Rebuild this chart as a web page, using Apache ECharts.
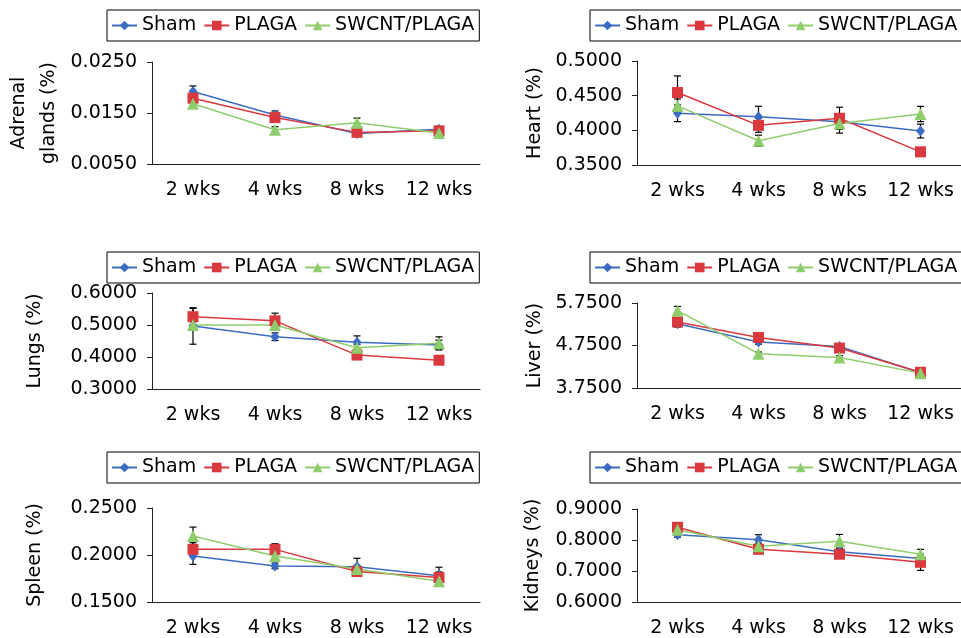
<!DOCTYPE html>
<html><head><meta charset="utf-8">
<script src="https://cdn.jsdelivr.net/npm/echarts@6/dist/echarts.min.js"></script>
<style>html,body{margin:0;padding:0;background:#fff}#c{width:961px;height:638px}</style>
</head><body><div id="c"></div>
<script>
const categories = ['2 wks','4 wks','8 wks','12 wks'];
const seriesNames = ['Sham','PLAGA','SWCNT/PLAGA'];

const adrenalSham  = [0.0192, 0.0146, 0.0110, 0.0118];
const adrenalPLAGA = [0.0179, 0.0141, 0.0112, 0.0115];
const adrenalSWCNT = [0.0168, 0.0117, 0.0131, 0.0111];
const adrenalShamErr  = [0.0011, 0.0008, 0.0005, 0.0005];
const adrenalPLAGAErr = [0.0008, 0.0007, 0.0005, 0.0004];
const adrenalSWCNTErr = [0.0006, 0.0006, 0.0009, 0.0004];
const adrenalTicks = [0.0050, 0.0150, 0.0250];

const heartSham  = [0.4246, 0.4197, 0.4125, 0.3990];
const heartPLAGA = [0.4545, 0.4072, 0.4174, 0.3690];
const heartSWCNT = [0.4352, 0.3850, 0.4100, 0.4236];
const heartShamErr  = [0.012, 0.015, 0.006, 0.010];
const heartPLAGAErr = [0.024, 0.010, 0.016, 0.005];
const heartSWCNTErr = [0.010, 0.008, 0.014, 0.011];
const heartTicks = [0.35, 0.40, 0.45, 0.50];

const lungsSham  = [0.4970, 0.4635, 0.4460, 0.4375];
const lungsPLAGA = [0.5260, 0.5130, 0.4060, 0.3900];
const lungsSWCNT = [0.5000, 0.5000, 0.4290, 0.4430];
const lungsShamErr  = [0.057, 0.012, 0.020, 0.015];
const lungsPLAGAErr = [0.026, 0.024, 0.008, 0.010];
const lungsSWCNTErr = [0.010, 0.010, 0.010, 0.020];
const lungsTicks = [0.30, 0.40, 0.50, 0.60];

const liverSham  = [5.263, 4.832, 4.729, 4.110];
const liverPLAGA = [5.303, 4.940, 4.690, 4.120];
const liverSWCNT = [5.569, 4.557, 4.470, 4.100];
const liverShamErr  = [0.08, 0.05, 0.04, 0.05];
const liverPLAGAErr = [0.05, 0.05, 0.05, 0.04];
const liverSWCNTErr = [0.10, 0.04, 0.04, 0.04];
const liverTicks = [3.75, 4.75, 5.75];

const spleenSham  = [0.1990, 0.1884, 0.1875, 0.1780];
const spleenPLAGA = [0.2060, 0.2060, 0.1824, 0.1760];
const spleenSWCNT = [0.2202, 0.1990, 0.1850, 0.1720];
const spleenShamErr  = [0.009, 0.003, 0.009, 0.009];
const spleenPLAGAErr = [0.007, 0.006, 0.004, 0.006];
const spleenSWCNTErr = [0.0095, 0.005, 0.004, 0.004];
const spleenTicks = [0.15, 0.20, 0.25];

const kidneysSham  = [0.817, 0.801, 0.762, 0.740];
const kidneysPLAGA = [0.841, 0.770, 0.754, 0.728];
const kidneysSWCNT = [0.833, 0.780, 0.796, 0.754];
const kidneysShamErr  = [0.008, 0.016, 0.010, 0.008];
const kidneysPLAGAErr = [0.008, 0.010, 0.010, 0.026];
const kidneysSWCNTErr = [0.008, 0.010, 0.022, 0.016];
const kidneysTicks = [0.60, 0.70, 0.80, 0.90];

const panels = [
  {name:'Adrenal\nglands (%)', vals:[adrenalSham,adrenalPLAGA,adrenalSWCNT], errs:[adrenalShamErr,adrenalPLAGAErr,adrenalSWCNTErr], ticks:adrenalTicks,
   grid:{left:152, top:62, width:328, height:102}, legend:{left:107, top:10}, nameGap:88},
  {name:'Heart (%)', vals:[heartSham,heartPLAGA,heartSWCNT], errs:[heartShamErr,heartPLAGAErr,heartSWCNTErr], ticks:heartTicks,
   grid:{left:637, top:61, width:328, height:104}, legend:{left:590, top:10}, nameGap:87},
  {name:'Lungs (%)', vals:[lungsSham,lungsPLAGA,lungsSWCNT], errs:[lungsShamErr,lungsPLAGAErr,lungsSWCNTErr], ticks:lungsTicks,
   grid:{left:152, top:293, width:328, height:96}, legend:{left:107, top:252}, nameGap:102},
  {name:'Liver (%)', vals:[liverSham,liverPLAGA,liverSWCNT], errs:[liverShamErr,liverPLAGAErr,liverSWCNTErr], ticks:liverTicks,
   grid:{left:637, top:303, width:328, height:85}, legend:{left:590, top:252}, nameGap:87},
  {name:'Spleen (%)', vals:[spleenSham,spleenPLAGA,spleenSWCNT], errs:[spleenShamErr,spleenPLAGAErr,spleenSWCNTErr], ticks:spleenTicks,
   grid:{left:152, top:508, width:328, height:95}, legend:{left:107, top:452}, nameGap:102},
  {name:'Kidneys (%)', vals:[kidneysSham,kidneysPLAGA,kidneysSWCNT], errs:[kidneysShamErr,kidneysPLAGAErr,kidneysSWCNTErr], ticks:kidneysTicks,
   grid:{left:637, top:509, width:328, height:95}, legend:{left:590, top:452}, nameGap:89}
];

const colors = ['#3c6cc1', '#d9393e', '#8fcd6c'];
const symbols = ['diamond', 'rect', 'triangle'];
const symbolSizes = [[9,11], 11, 12];
const FONT = 'DejaVu Sans';

function errRender(params, api) {
  const x = api.value(0);
  const lo = api.coord([x, api.value(1)]);
  const hi = api.coord([x, api.value(2)]);
  const w = 3.5;
  const st = {stroke:'#000', lineWidth:1.2};
  return {type:'group', children:[
    {type:'line', shape:{x1:lo[0], y1:lo[1], x2:hi[0], y2:hi[1]}, style:st},
    {type:'line', shape:{x1:lo[0]-w, y1:lo[1], x2:lo[0]+w, y2:lo[1]}, style:st},
    {type:'line', shape:{x1:hi[0]-w, y1:hi[1], x2:hi[0]+w, y2:hi[1]}, style:st}
  ]};
}

const grid = [], xAxis = [], yAxis = [], series = [], legend = [];
panels.forEach((p, i) => {
  grid.push(Object.assign({containLabel:false}, p.grid));
  const tmin = p.ticks[0], tmax = p.ticks[p.ticks.length-1];
  xAxis.push({type:'category', gridIndex:i, data:categories, boundaryGap:true,
    axisLine:{lineStyle:{color:'#222', width:1}},
    axisTick:{alignWithLabel:false, length:5, lineStyle:{color:'#222'}},
    axisLabel:{color:'#000', fontFamily:FONT, fontSize:19, margin:17, interval:0}});
  yAxis.push({type:'value', gridIndex:i, min:tmin, max:tmax,
    name:p.name, nameLocation:'middle', nameRotate:90, nameGap:p.nameGap,
    nameTextStyle:{color:'#000', fontFamily:FONT, fontSize:19, lineHeight:30},
    splitLine:{show:false},
    axisLine:{show:true, lineStyle:{color:'#222', width:1}},
    axisTick:{show:true, length:5, lineStyle:{color:'#222'}, customValues:p.ticks},
    axisLabel:{color:'#000', fontFamily:FONT, fontSize:19, margin:15, customValues:p.ticks,
      formatter: v => v.toFixed(4)}});
  legend.push({data:seriesNames, left:p.legend.left, top:p.legend.top, width:800,
    orient:'horizontal', itemWidth:25, itemHeight:12, itemGap:7,
    padding:[6,5,6,4], borderColor:'#000', borderWidth:1,
    textStyle:{color:'#000', fontFamily:FONT, fontSize:19}});
  for (let s = 0; s < 3; s++) {
    const errData = p.vals[s].map((v, k) => [k, v - p.errs[s][k], v + p.errs[s][k]]);
    series.push({type:'custom', name:'err'+i+'_'+s, xAxisIndex:i, yAxisIndex:i,
      renderItem:errRender, data:errData, z:1, silent:true,
      encode:{x:0, y:[1,2]}});
  }
  for (let s = 0; s < 3; s++) {
    series.push({type:'line', name:seriesNames[s], xAxisIndex:i, yAxisIndex:i,
      data:p.vals[s], symbol:symbols[s], symbolSize:symbolSizes[s],
      lineStyle:{color:colors[s], width:1.5}, itemStyle:{color:colors[s]},
      color:colors[s], z:3, animation:false});
  }
});

const chart = echarts.init(document.getElementById('c'), null, {renderer:'canvas'});
chart.setOption({animation:false, grid, xAxis, yAxis, legend, series});
</script></body></html>
